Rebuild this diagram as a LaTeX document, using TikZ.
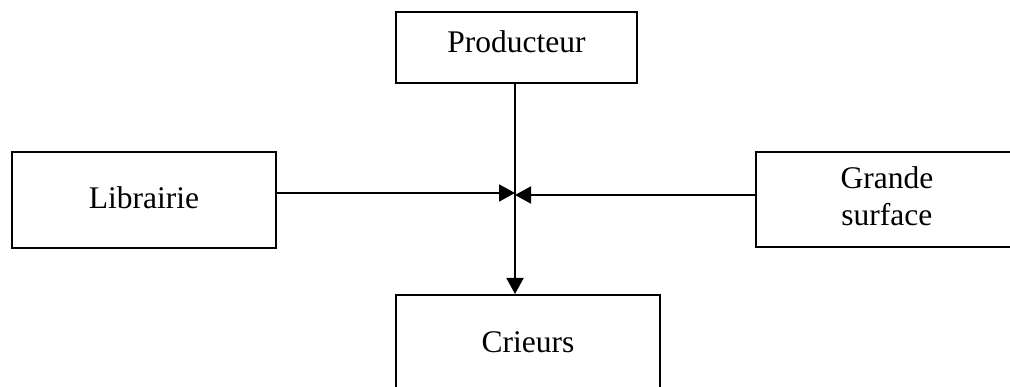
\documentclass[tikz,border=0pt]{standalone}
\usepackage{fontspec}
\setmainfont{Liberation Serif}
\usetikzlibrary{arrows.meta}
\begin{document}
\begin{tikzpicture}[x=1pt,y=-1pt,
  box/.style={draw, line width=1.9pt, anchor=north west, inner xsep=0pt, inner ysep=0pt,
    font=\fontsize{31.5}{37}\selectfont, align=center},
  link/.style={line width=1.9pt},
  arr/.style={link, -{Triangle[length=16pt,width=17pt]}}]
  \useasboundingbox (0,0) rectangle (1010,387);
  \clip (0,0) rectangle (1010,387);
  % boxes
  \node[box, minimum width=241pt, text height=41pt, text depth=30pt] (prod) at (395,11) {Producteur};
  \node[box, minimum width=264pt, text height=57pt, text depth=39pt] (lib) at (11,151) {Librairie};
  \node[box, minimum width=262pt, text height=74pt, text depth=21pt] (gs) at (755,151) {Grande\\surface};
  \node[box, minimum width=264pt, text height=58pt, text depth=47pt] (cri) at (395,294) {Crieurs};
  % meeting points of the side arrows
  \coordinate (jl) at (515,193);
  \coordinate (jr) at (515,195);
  % connectors
  \draw[arr] (prod.south -| jl) -- (cri.north -| jl);
  \draw[arr] (lib.east |- jl) -- (jl);
  \draw[arr] (gs.west |- jr) -- (jr);
\end{tikzpicture}
\end{document}
